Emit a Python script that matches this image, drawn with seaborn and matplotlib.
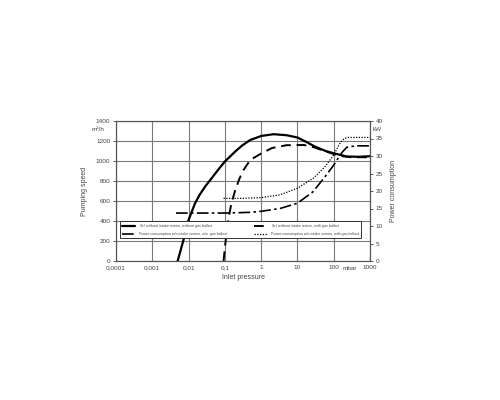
import numpy as np
import pandas as pd
import matplotlib
matplotlib.use("Agg")
import matplotlib.pyplot as plt
import seaborn as sns

sns.set_style("white")
plt.rcParams['font.family'] = ['Liberation Sans', 'DejaVu Sans']

# Pumping speed curves (m3/h)
pressure_dry = [0.005, 0.0075, 0.01, 0.015, 0.02, 0.03, 0.04, 0.06, 0.1, 0.2, 0.3, 0.5, 1, 2.2, 5, 10, 20, 30, 60, 100, 230, 500, 1000]
speed_dry = [0, 230, 410, 575, 660, 755, 812, 895, 995, 1100, 1155, 1210, 1250, 1268, 1258, 1235, 1180, 1145, 1100, 1077, 1045, 1042, 1048]

pressure_gb = [0.092, 0.105, 0.124, 0.15, 0.19, 0.25, 0.32, 0.5, 1, 2, 5, 15, 30, 60, 100, 150, 300, 1000]
speed_gb = [0, 200, 410, 570, 700, 820, 905, 1010, 1075, 1130, 1158, 1160, 1135, 1095, 1070, 1050, 1038, 1037]

# Power consumption curves (kW)
pressure_pw_dry = [0.0045, 0.01, 0.1, 0.5, 1, 3.3, 10, 27, 63, 100, 140, 175, 230, 400, 1000]
power_dry = [13.7, 13.7, 13.7, 13.9, 14.2, 15.0, 16.5, 19.8, 24.6, 27.4, 29.8, 31.2, 32.5, 32.9, 32.9]

pressure_pw_gb = [0.092, 0.3, 1, 3.3, 10, 27, 57, 100, 140, 175, 230, 400, 1000]
power_gb = [17.9, 17.9, 18.1, 18.9, 20.8, 23.6, 26.9, 30.3, 33.2, 34.6, 35.3, 35.3, 35.3]

x_ticks = [0.0001, 0.001, 0.01, 0.1, 1, 10, 100, 1000]
x_labels = ['0,0001', '0,001', '0,01', '0,1', '1', '10', '100', '1000']

labels = ['S$_{eff}$ without intake screen, without gas ballast',
          'S$_{eff}$ without intake screen, with gas ballast',
          'Power consumption w/o intake screen, w/o  gas ballast',
          'Power consumption w/o intake screen, with gas ballast']

txt = '#444444'
fig = plt.figure(figsize=(5, 4), dpi=100)
ax = fig.add_axes([116 / 500, 1 - 261 / 400, 254 / 500, 140 / 400])
ax2 = ax.twinx()

sns.lineplot(x=pressure_dry, y=speed_dry, ax=ax, color='black', lw=1.6, label=labels[0])
sns.lineplot(x=pressure_gb, y=speed_gb, ax=ax, color='black', lw=1.4, linestyle=(0, (5, 3)), label=labels[1])
sns.lineplot(x=pressure_pw_dry, y=power_dry, ax=ax2, color='black', lw=1.2, linestyle=(0, (7, 2, 1.5, 2)), label=labels[2])
sns.lineplot(x=pressure_pw_gb, y=power_gb, ax=ax2, color='black', lw=0.9, linestyle=(0, (1, 1.2)), label=labels[3])

for a in (ax, ax2):
    if a.get_legend() is not None:
        a.get_legend().remove()

ax.set_xscale('log')
ax.set_xlim(0.0001, 1000)
ax.set_ylim(0, 1400)
ax2.set_ylim(0, 40)
ax.set_xticks(x_ticks)
ax.set_xticklabels(x_labels)
ax.minorticks_off()
ax.set_yticks(range(0, 1401, 200))
ax2.set_yticks(range(0, 41, 5))

ax.grid(True, color='#7a7a7a', lw=0.8)
ax2.grid(False)
for a in (ax, ax2):
    for s in a.spines.values():
        s.set_color('#555555')
        s.set_linewidth(0.8)
    a.tick_params(labelsize=4.6, colors=txt, length=2.5, width=0.6, pad=1.5)
ax.tick_params(axis='x', length=0, pad=3)

ax.set_xlabel('Inlet pressure', fontsize=5, color=txt, labelpad=3)
ax.set_ylabel('Pumping speed', fontsize=5, color=txt, labelpad=6)
ax2.set_ylabel('Power consumption', fontsize=5, color=txt, labelpad=5)
ax.text(-0.07, 0.93, 'm³/h', transform=ax.transAxes, fontsize=4.6, color=txt, ha='center')
ax2.text(1.03, 0.93, 'kW', transform=ax.transAxes, fontsize=4.6, color=txt, ha='center')
ax.text(280, -0.035, 'mbar', transform=ax.get_xaxis_transform(), fontsize=4.6, color=txt, ha='center', va='top')

h1, l1 = ax.get_legend_handles_labels()
h2, l2 = ax2.get_legend_handles_labels()
handles = [h1[0], h2[0], h1[1], h2[1]]
leg_labels = [l1[0], l2[0], l1[1], l2[1]]
leg = ax2.legend(handles, leg_labels, ncol=2, fontsize=2.6, mode='expand',
                 bbox_to_anchor=(0.016, 0.164, 0.95, 0.1), loc='lower left',
                 frameon=True, fancybox=False, edgecolor='#333333', framealpha=1,
                 handlelength=3.6, borderpad=0.5, labelspacing=0.5, handletextpad=1.2,
                 borderaxespad=0)
leg.get_frame().set_linewidth(0.7)
for t in leg.get_texts():
    t.set_color(txt)

fig.savefig('out.png', dpi=100, facecolor='white')
